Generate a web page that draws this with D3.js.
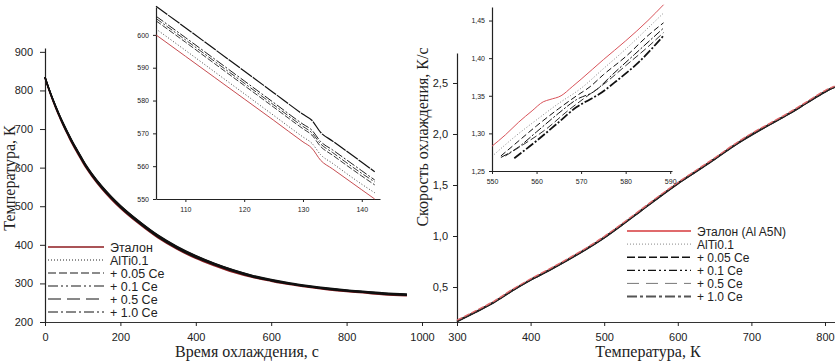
<!DOCTYPE html>
<html>
<head>
<meta charset="utf-8">
<script src="https://cdn.jsdelivr.net/npm/d3@7"></script>
<style>
  body { margin: 0; background: #fff; }
  svg text { fill: #222; }
  .tick text { font-family: "Liberation Sans", Arial, sans-serif; }
</style>
</head>
<body>
<div id="root"></div>
<script>
// ---- data: cooling curves T(t), main left plot ----
const mainTime   = [0, 10, 20, 30, 40, 50, 60, 70, 80, 90, 100, 110, 125, 150, 175, 200, 250, 300, 350, 400, 450, 500, 550, 600, 650, 700, 750, 800, 850, 900, 960];
const mainEtalon = [834, 803, 776, 751, 728, 706, 686, 666, 648, 631, 614, 598, 577, 546, 519, 495, 454, 418, 389, 365, 346, 329, 316, 306, 297, 290, 284, 279, 275, 271, 268];
const mainAlTi   = [834, 804, 777, 752, 729, 707, 687, 668, 650, 633, 616, 600, 579, 548, 521, 497, 456, 420, 391, 367, 348, 331, 317, 307, 298, 291, 285, 280, 276, 272, 269];
const mainCe005  = [834, 805, 778, 754, 731, 709, 689, 670, 652, 635, 618, 602, 581, 550, 523, 499, 458, 422, 393, 369, 349, 332, 318, 308, 299, 292, 286, 281, 277, 273, 271];
const mainCe01   = [834, 805, 779, 754, 731, 710, 690, 671, 653, 636, 619, 602, 582, 551, 524, 500, 459, 423, 394, 370, 350, 333, 319, 308, 299, 292, 286, 282, 278, 274, 271];
const mainCe05   = [834, 806, 780, 756, 733, 712, 692, 673, 655, 638, 621, 605, 584, 553, 526, 502, 461, 425, 396, 372, 352, 335, 321, 310, 301, 294, 288, 283, 279, 275, 272];
const mainCe10   = [834, 805, 779, 755, 732, 711, 691, 672, 654, 637, 620, 603, 583, 552, 525, 501, 460, 424, 395, 371, 351, 334, 320, 309, 300, 293, 287, 282, 278, 274, 272];

// ---- inset left: zoom 105..142 s ----
const insTime   = [105, 110, 115, 120, 125, 130, 131.5, 133, 135, 140, 142.2];
const insEtalon = [600.0, 593.5, 587.0, 580.5, 574.0, 567.4, 565.5, 561.8, 559.2, 552.8, 550.0];
const insAlTi   = [601.8, 595.3, 588.7, 582.1, 575.5, 568.9, 567.0, 563.5, 560.9, 554.5, 551.9];
const insCe005  = [604.3, 597.8, 591.2, 584.6, 578.0, 571.4, 569.5, 566.0, 563.4, 557.0, 554.3];
const insCe01   = [605.0, 598.5, 591.9, 585.3, 578.7, 572.1, 570.2, 566.8, 564.2, 557.8, 555.2];
const insCe05   = [608.7, 602.2, 595.6, 589.0, 582.4, 575.8, 574.0, 570.3, 567.7, 561.2, 558.3];
const insCe10   = [605.7, 599.2, 592.6, 586.0, 579.4, 572.8, 571.0, 567.5, 565.0, 558.6, 555.8];

// ---- cooling rate vs temperature, main right plot ----
const rateTemp   = [300, 325, 350, 375, 400, 425, 450, 475, 500, 525, 550, 575, 600, 625, 650, 675, 700, 725, 750, 775, 800, 813];
const rateEtalon = [0.175, 0.265, 0.36, 0.475, 0.58, 0.675, 0.775, 0.88, 0.995, 1.125, 1.26, 1.395, 1.525, 1.645, 1.765, 1.89, 2.005, 2.105, 2.205, 2.315, 2.425, 2.47];
const rateAlTi   = [0.17, 0.26, 0.355, 0.47, 0.575, 0.67, 0.77, 0.875, 0.99, 1.12, 1.255, 1.39, 1.52, 1.64, 1.76, 1.885, 2.0, 2.1, 2.2, 2.31, 2.42, 2.465];
const rateCe005  = [0.165, 0.255, 0.35, 0.465, 0.57, 0.665, 0.765, 0.87, 0.985, 1.115, 1.25, 1.385, 1.515, 1.635, 1.755, 1.88, 1.995, 2.095, 2.195, 2.305, 2.415, 2.46];
const rateCe01   = [0.165, 0.255, 0.35, 0.465, 0.57, 0.665, 0.765, 0.87, 0.985, 1.115, 1.25, 1.385, 1.515, 1.635, 1.755, 1.88, 1.99, 2.095, 2.195, 2.305, 2.415, 2.46];
const rateCe05   = [0.16, 0.25, 0.345, 0.46, 0.565, 0.66, 0.76, 0.865, 0.98, 1.11, 1.245, 1.38, 1.51, 1.63, 1.75, 1.875, 1.99, 2.09, 2.19, 2.3, 2.41, 2.455];
const rateCe10   = [0.16, 0.25, 0.345, 0.46, 0.565, 0.66, 0.76, 0.865, 0.98, 1.11, 1.245, 1.38, 1.51, 1.63, 1.75, 1.875, 1.985, 2.09, 2.19, 2.3, 2.41, 2.455];

// ---- inset right: zoom 550..590 K (x, y pairs per series) ----
const rinsEtalonT = [550, 553, 556, 559, 561.5, 563, 565.5, 568, 570, 575, 580, 585, 588.5];
const rinsEtalonV = [1.283, 1.298, 1.315, 1.330, 1.342, 1.345, 1.350, 1.362, 1.372, 1.398, 1.423, 1.450, 1.471];
const rinsAlTiT   = [550.5, 555, 560, 565, 570, 575, 580, 585, 588.5];
const rinsAlTiV   = [1.272, 1.295, 1.318, 1.340, 1.360, 1.386, 1.412, 1.440, 1.460];
const rinsCe005T  = [552, 555, 560, 565, 569, 572, 575, 580, 585, 588.5];
const rinsCe005V  = [1.270, 1.285, 1.310, 1.333, 1.350, 1.362, 1.378, 1.402, 1.430, 1.447];
const rinsCe01T   = [552, 556, 560, 565, 569, 573, 577, 582, 588.5];
const rinsCe01V   = [1.268, 1.282, 1.302, 1.327, 1.345, 1.356, 1.378, 1.405, 1.440];
const rinsCe05T   = [553, 557, 562, 567, 571, 575, 580, 585, 588.5];
const rinsCe05V   = [1.270, 1.285, 1.305, 1.330, 1.348, 1.365, 1.390, 1.415, 1.434];
const rinsCe10T   = [555, 560, 565, 569, 571, 574, 578, 583, 588.5];
const rinsCe10V   = [1.267, 1.290, 1.315, 1.335, 1.342, 1.352, 1.370, 1.395, 1.430];

const leftLabels  = ["Эталон", "AlTi0.1", "+ 0.05 Ce", "+ 0.1 Ce", "+ 0.5 Ce", "+ 1.0 Ce"];
const rightLabels = ["Эталон (Al A5N)", "AlTi0.1", "+ 0.05 Ce", "+ 0.1 Ce", "+ 0.5 Ce", "+ 1.0 Ce"];

const leftTicksX = [0, 200, 400, 600, 800, 1000];
const leftTicksY = [200, 300, 400, 500, 600, 700, 800, 900];
const insTicksX  = [110, 120, 130, 140];
const insTicksY  = [550, 560, 570, 580, 590, 600];
const rightTicksX = [300, 400, 500, 600, 700, 800];
const rightTicksY = [0.5, 1.0, 1.5, 2.0, 2.5];
const rinsTicksX = [550, 560, 570, 580, 590];
const rinsTicksY = [1.25, 1.30, 1.35, 1.40, 1.45];

// line styles (left and right figures differ a little)
const leftStyles = [
  {stroke: "#8e1b1f", width: 1.3, dash: null},
  {stroke: "#222", width: 1, dash: "1,2"},
  {stroke: "#666", width: 1.6, dash: "8,3"},
  {stroke: "#666", width: 1.6, dash: "10,3,2,3,2,3"},
  {stroke: "#111", width: 1, dash: "13,6"},
  {stroke: "#111", width: 1, dash: "10,3,2,3"}
];
const rightStyles = [
  {stroke: "#e06a6c", width: 1.8, dash: null},
  {stroke: "#888", width: 1, dash: "1,2"},
  {stroke: "#111", width: 1.5, dash: "8,3"},
  {stroke: "#111", width: 1.3, dash: "8,3,2,3,2,3"},
  {stroke: "#777", width: 1, dash: "12,7"},
  {stroke: "#555", width: 2, dash: "10,3,3,3"}
];

const W = 835, H = 361;
const svg = d3.select("#root").append("svg")
  .attr("width", W).attr("height", H)
  .style("font-family", "'Liberation Sans', Arial, sans-serif");

function drawSeries(g, xs, ys, x, y, st) {
  const pts = xs.map((v, i) => [x(v), y(ys[i])]);
  g.append("path")
    .attr("d", d3.line().curve(d3.curveMonotoneX)(pts))
    .attr("fill", "none")
    .attr("stroke", st.stroke)
    .attr("stroke-width", st.width)
    .attr("stroke-dasharray", st.dash);
}

function styleAxis(g, size) {
  g.select(".domain").attr("stroke", "#222").attr("stroke-width", 1.2);
  g.selectAll(".tick line").attr("stroke", "#222");
  g.selectAll(".tick text").style("font-size", size + "px").attr("fill", "#222");
}

function legend(x0, y0, step, len, labels, styles, fs) {
  const lg = svg.append("g").attr("transform", `translate(${x0},${y0})`);
  labels.forEach((lab, i) => {
    const st = styles[i];
    lg.append("line")
      .attr("x1", 0).attr("x2", len)
      .attr("y1", i * step).attr("y2", i * step)
      .attr("stroke", st.stroke)
      .attr("stroke-width", st.width)
      .attr("stroke-dasharray", st.dash);
    lg.append("text")
      .attr("x", len + 6).attr("y", i * step + 4.5)
      .style("font-size", fs + "px")
      .attr("fill", "#333")
      .text(lab);
  });
  return lg;
}

const serif = "'Liberation Serif', 'Times New Roman', serif";

// ================= LEFT: cooling curves =================
const xL = d3.scaleLinear().domain([0, 1000]).range([45, 422]);
const yL = d3.scaleLinear().domain([200, 910]).range([322, 48]);

// common baseline joining both plots
svg.append("line")
  .attr("x1", 45).attr("x2", 835).attr("y1", 322.5).attr("y2", 322.5)
  .attr("stroke", "#333").attr("stroke-width", 1.2);

const gxL = svg.append("g").attr("transform", "translate(0,322)")
  .call(d3.axisBottom(xL).tickValues(leftTicksX).tickFormat(d3.format("d")).tickSize(4).tickSizeOuter(0).tickPadding(7));
styleAxis(gxL, 11);
gxL.select(".domain").remove();

const gyL = svg.append("g").attr("transform", "translate(45,0)")
  .call(d3.axisLeft(yL).tickValues(leftTicksY).tickSize(5).tickSizeOuter(0).tickPadding(7));
styleAxis(gyL, 11);

const leftData = [mainEtalon, mainAlTi, mainCe005, mainCe01, mainCe05, mainCe10];
const gL = svg.append("g");
leftData.forEach((d, i) => drawSeries(gL, mainTime, d, xL, yL, {stroke: i === 0 ? leftStyles[0].stroke : "#111", width: i === 0 ? 1.6 : 1.4, dash: null}));

svg.append("text")
  .attr("x", 247).attr("y", 357)
  .attr("text-anchor", "middle")
  .style("font-family", serif)
  .style("font-size", "16px")
  .text("Время охлаждения, с");

svg.append("text")
  .attr("transform", "translate(15,178) rotate(-90)")
  .attr("text-anchor", "middle")
  .style("font-family", serif)
  .style("font-size", "16px")
  .text("Температура, К");

legend(48, 247, 13, 56, leftLabels, leftStyles, 12.5);

// ---- left inset ----
const xI = d3.scaleLinear().domain([105, 143.1]).range([156, 380]);
const yI = d3.scaleLinear().domain([550, 608.5]).range([199, 7]);

const gxI = svg.append("g").attr("transform", "translate(0,199)")
  .call(d3.axisBottom(xI).tickValues(insTicksX).tickSize(3).tickSizeOuter(0).tickPadding(5));
styleAxis(gxI, 7);
const gyI = svg.append("g").attr("transform", "translate(156,0)")
  .call(d3.axisLeft(yI).tickValues(insTicksY).tickSize(3).tickSizeOuter(0).tickPadding(4));
styleAxis(gyI, 7);

const insData = [insEtalon, insAlTi, insCe005, insCe01, insCe05, insCe10];
const insStyles = [
  {stroke: "#c0393d", width: 0.9, dash: null},
  {stroke: "#333", width: 0.9, dash: "1,2"},
  {stroke: "#222", width: 0.9, dash: "6,2"},
  {stroke: "#222", width: 0.9, dash: "7,2,2,2"},
  {stroke: "#111", width: 1.2, dash: "14,1"},
  {stroke: "#222", width: 1, dash: "9,2,2,2"}
];
const gI = svg.append("g");
insData.forEach((d, i) => drawSeries(gI, insTime, d, xI, yI, insStyles[i]));

// ================= RIGHT: cooling rate =================
const xR = d3.scaleLinear().domain([300, 813.6]).range([457, 835]);
const yR = d3.scaleLinear().domain([0.157, 2.794]).range([322, 53]);
const fmtComma = d => d3.format(".1f")(d).replace(".", ",");

const gxR = svg.append("g").attr("transform", "translate(0,322)")
  .call(d3.axisBottom(xR).tickValues(rightTicksX).tickSize(4).tickSizeOuter(0).tickPadding(7));
styleAxis(gxR, 11);
gxR.select(".domain").remove();

const gyR = svg.append("g").attr("transform", "translate(457,0)")
  .call(d3.axisLeft(yR).tickValues(rightTicksY).tickFormat(fmtComma).tickSize(4).tickSizeOuter(0).tickPadding(5));
styleAxis(gyR, 11);

const rightData = [rateEtalon, rateAlTi, rateCe005, rateCe01, rateCe05, rateCe10];
const gR = svg.append("g");
[1, 2, 3, 4, 5, 0].forEach(i => drawSeries(gR, rateTemp, rightData[i], xR, yR,
  {stroke: i === 0 ? rightStyles[0].stroke : "#222", width: i === 0 ? 1.4 : 1.1, dash: i === 0 ? "6,2" : null}));

svg.append("text")
  .attr("x", 648).attr("y", 357)
  .attr("text-anchor", "middle")
  .style("font-family", serif)
  .style("font-size", "16px")
  .text("Температура, К");

svg.append("text")
  .attr("transform", "translate(428,137) rotate(-90)")
  .attr("text-anchor", "middle")
  .style("font-family", serif)
  .style("font-size", "16px")
  .text("Скорость охлаждения, К/с");

legend(627, 231, 13.1, 64, rightLabels, rightStyles, 12);

// ---- right inset ----
const xRI = d3.scaleLinear().domain([550, 590.4]).range([492, 672]);
const yRI = d3.scaleLinear().domain([1.25, 1.468]).range([171, 7]);

const gxRI = svg.append("g").attr("transform", "translate(0,171)")
  .call(d3.axisBottom(xRI).tickValues(rinsTicksX).tickSize(3).tickSizeOuter(0).tickPadding(5));
styleAxis(gxRI, 7);
const gyRI = svg.append("g").attr("transform", "translate(492,0)")
  .call(d3.axisLeft(yRI).tickValues(rinsTicksY).tickFormat(d => d3.format(".2f")(d).replace(".", ",")).tickSize(3).tickSizeOuter(0).tickPadding(4));
styleAxis(gyRI, 7);

const rinsT = [rinsEtalonT, rinsAlTiT, rinsCe005T, rinsCe01T, rinsCe05T, rinsCe10T];
const rinsV = [rinsEtalonV, rinsAlTiV, rinsCe005V, rinsCe01V, rinsCe05V, rinsCe10V];
const rinsStyles = [
  {stroke: "#d9535a", width: 1, dash: null},
  {stroke: "#777", width: 0.9, dash: "1,2"},
  {stroke: "#111", width: 1, dash: "6,3"},
  {stroke: "#111", width: 1, dash: "8,2,2,2"},
  {stroke: "#333", width: 1, dash: "7,3"},
  {stroke: "#111", width: 1.8, dash: "9,2,2,2"}
];
const gRI = svg.append("g");
rinsT.forEach((t, i) => drawSeries(gRI, t, rinsV[i], xRI, yRI, rinsStyles[i]));
</script>
</body>
</html>
